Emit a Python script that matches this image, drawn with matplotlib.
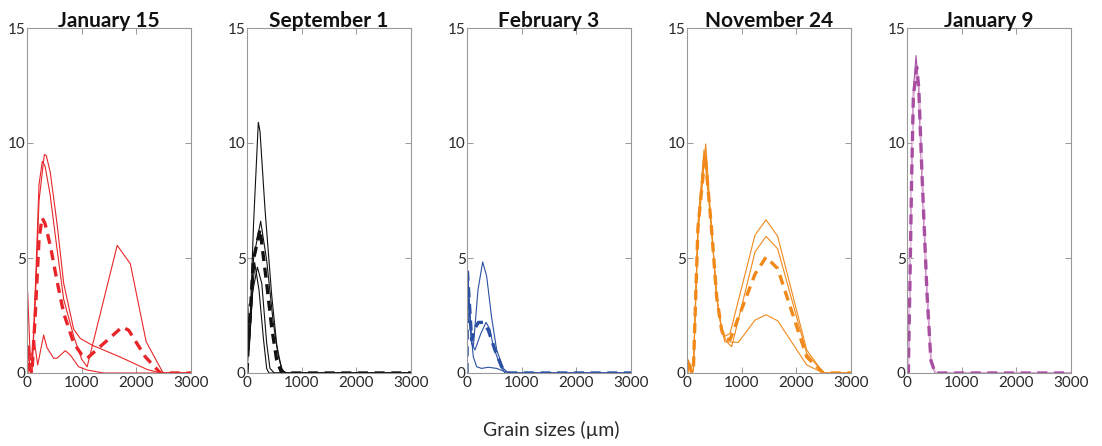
import matplotlib
matplotlib.use("Agg")
import matplotlib.pyplot as plt

plt.rcParams['font.family'] = ['Lato', 'DejaVu Sans']

titles = ["January 15", "September 1", "February 3", "November 24", "January 9"]
colors = ["#E8262A", "#111111", "#2B50A3", "#F0891A", "#A84FA2"]

# ---- January 15 (red) ----
jan15_x1 = [0, 20, 50, 90, 150, 220, 317, 354, 427, 549, 671, 854, 976, 1200, 1700, 2200, 2440, 3000]
jan15_y1 = [0, 1.2, 0.3, 0.0, 3.0, 7.5, 9.5, 9.45, 8.7, 6.5, 3.9, 1.9, 1.5, 1.2, 0.7, 0.15, 0, 0]
jan15_x2 = [0, 20, 50, 90, 150, 220, 280, 330, 420, 549, 671, 854, 1000, 1100, 1650, 1890, 2180, 2490, 3000]
jan15_y2 = [0, 1.0, 0.2, 0.0, 3.5, 8.2, 9.2, 9.0, 7.8, 5.4, 3.2, 1.6, 0.6, 0.27, 5.55, 4.75, 1.36, 0, 0]
jan15_x3 = [0, 12, 61, 134, 195, 305, 366, 488, 549, 700, 793, 945, 1100, 1400, 3000]
jan15_y3 = [0, 3.5, 0.56, 1.4, 0.35, 1.65, 1.1, 0.64, 0.64, 0.97, 0.78, 0.27, 0.13, 0, 0]
jan15_xm = [0, 20, 50, 90, 150, 220, 275, 330, 430, 549, 671, 854, 1000, 1100, 1740, 1860, 2165, 2440, 3000]
jan15_ym = [0, 1.3, 0.2, 0.0, 2.5, 5.8, 6.75, 6.5, 5.5, 4.0, 2.6, 1.3, 0.8, 0.64, 2.0, 1.86, 0.7, 0, 0]

# ---- September 1 (black) ----
sep1_x1 = [0, 25, 60, 120, 207, 238, 330, 451, 545, 630, 700, 3000]
sep1_y1 = [0, 1.0, 2.5, 6.5, 10.9, 10.5, 7.1, 3.4, 1.2, 0.2, 0, 0]
sep1_x2 = [0, 20, 50, 120, 250, 360, 480, 575, 650, 730, 3000]
sep1_y2 = [0, 1.5, 1.8, 5.0, 6.6, 4.9, 2.2, 0.7, 0.1, 0, 0]
sep1_x3 = [0, 15, 40, 100, 190, 270, 360, 420, 500, 3000]
sep1_y3 = [0, 3.0, 1.0, 3.5, 4.6, 3.9, 1.3, 0.2, 0, 0]
sep1_x4 = [0, 20, 45, 140, 220, 300, 360, 400, 3000]
sep1_y4 = [0, 2.2, 1.4, 4.8, 3.6, 1.5, 0.2, 0, 0]
sep1_xm = [0, 24, 55, 116, 238, 360, 451, 543, 634, 3000]
sep1_ym = [0, 1.3, 2.4, 4.9, 6.25, 3.9, 2.0, 0.56, 0, 0]

# ---- February 3 (blue) ----
feb3_x1 = [0, 8, 85, 116, 200, 287, 360, 451, 543, 665, 756, 3000]
feb3_y1 = [0, 4.4, 1.3, 1.14, 3.6, 4.83, 4.2, 2.4, 1.0, 0.2, 0, 0]
feb3_x2 = [0, 8, 85, 146, 250, 348, 420, 482, 604, 695, 3000]
feb3_y2 = [0, 4.4, 1.3, 1.0, 1.7, 2.2, 1.9, 1.14, 0.35, 0, 0]
feb3_x3 = [0, 8, 60, 116, 177, 268, 390, 543, 695, 787, 3000]
feb3_y3 = [0, 4.4, 2.0, 0.7, 0.27, 0.2, 0.25, 0.2, 0.06, 0, 0]
feb3_xm = [0, 8, 85, 146, 207, 300, 390, 512, 634, 756, 3000]
feb3_ym = [0, 4.4, 1.43, 1.94, 2.2, 2.2, 1.86, 1.0, 0.27, 0, 0]

# ---- November 24 (orange) ----
nov24_x1 = [0, 24, 85, 116, 200, 342, 451, 543, 634, 695, 787, 1244, 1446, 1659, 2190, 2495, 3000]
nov24_y1 = [0, 0.56, 0, 0.1, 6.0, 9.96, 6.2, 3.3, 1.9, 1.6, 1.72, 6.0, 6.66, 5.94, 1.0, 0, 0]
nov24_x2 = [0, 24, 85, 116, 200, 311, 451, 543, 634, 726, 817, 1244, 1446, 1659, 2190, 2495, 3000]
nov24_y2 = [0, 0.56, 0, 0.1, 6.5, 9.7, 6.2, 3.3, 1.86, 1.36, 1.14, 5.26, 5.94, 5.4, 0.85, 0, 0]
nov24_x3 = [0, 24, 85, 116, 200, 330, 451, 543, 634, 695, 940, 1244, 1446, 1659, 2190, 2495, 3000]
nov24_y3 = [0, 0.56, 0, 0.1, 6.3, 9.6, 6.2, 3.3, 1.86, 1.36, 1.33, 2.3, 2.53, 2.27, 0.35, 0, 0]
nov24_xm = [0, 24, 85, 116, 200, 330, 451, 543, 634, 695, 787, 1244, 1446, 1659, 2190, 2495, 3000]
nov24_ym = [0, 0.56, 0, 0.1, 6.3, 9.5, 6.2, 3.3, 1.86, 1.5, 1.45, 4.3, 5.04, 4.54, 0.7, 0, 0]

# ---- January 9 (purple) ----
jan9_x1 = [0, 24, 55, 85, 116, 165, 207, 268, 360, 433, 512, 3000]
jan9_y1 = [0, 0, 4.3, 8.7, 12.3, 13.8, 12.6, 8.7, 3.6, 0.56, 0, 0]
jan9_x2 = [0, 24, 55, 85, 116, 177, 220, 280, 370, 440, 520, 3000]
jan9_y2 = [0, 0, 4.0, 8.4, 11.9, 13.3, 12.4, 8.6, 3.5, 0.6, 0, 0]
jan9_xm = [0, 24, 55, 85, 116, 177, 215, 275, 365, 437, 515, 3000]
jan9_ym = [0, 0, 4.1, 8.5, 12.0, 13.3, 12.4, 8.6, 3.5, 0.55, 0, 0]

panels = [
    ([(jan15_x1, jan15_y1), (jan15_x2, jan15_y2), (jan15_x3, jan15_y3)], (jan15_xm, jan15_ym)),
    ([(sep1_x1, sep1_y1), (sep1_x2, sep1_y2), (sep1_x3, sep1_y3), (sep1_x4, sep1_y4)], (sep1_xm, sep1_ym)),
    ([(feb3_x1, feb3_y1), (feb3_x2, feb3_y2), (feb3_x3, feb3_y3)], (feb3_xm, feb3_ym)),
    ([(nov24_x1, nov24_y1), (nov24_x2, nov24_y2), (nov24_x3, nov24_y3)], (nov24_xm, nov24_ym)),
    ([(jan9_x1, jan9_y1), (jan9_x2, jan9_y2)], (jan9_xm, jan9_ym)),
]

xticks = [0, 1000, 2000, 3000]
yticks = [0, 5, 10, 15]

W, H = 1102, 446
fig = plt.figure(figsize=(W / 100, H / 100), dpi=100)

left0 = 27
step = 220
aw = 164
top = 28
bottom = 373

for i, (solids, mean) in enumerate(panels):
    ax = fig.add_axes([(left0 + i * step) / W, (H - bottom) / H, aw / W, (bottom - top) / H])
    c = colors[i]
    for xs, ys in solids:
        ax.plot(xs, ys, color=c, lw=0.8)
    if i == 4:
        ax.plot(jan9_x2, jan9_y2, color="#E7C3E3", lw=0.9)
    ax.plot(mean[0], mean[1], color=c, lw=2.4, ls=(0, (3, 2)))
    ax.set_xlim(0, 3000)
    ax.set_ylim(0, 15)
    ax.set_xticks(xticks)
    ax.set_yticks(yticks)
    ax.tick_params(direction='in', top=True, right=True, length=4, width=0.6,
                   color='#888888', labelsize=11, labelcolor='#2a2a2a')
    ax.tick_params(axis='y', pad=1)
    ax.tick_params(axis='x', pad=2)
    for s in ax.spines.values():
        s.set_color('#999999')
        s.set_linewidth(0.8)
    ax.set_title(titles[i], fontsize=15, fontweight='bold', pad=1, color='#111111')

fig.text(0.5, 0.035, "Grain sizes (µm)", ha='center', va='center', fontsize=14, color='#2a2a2a')

fig.savefig("out.png", dpi=100)
